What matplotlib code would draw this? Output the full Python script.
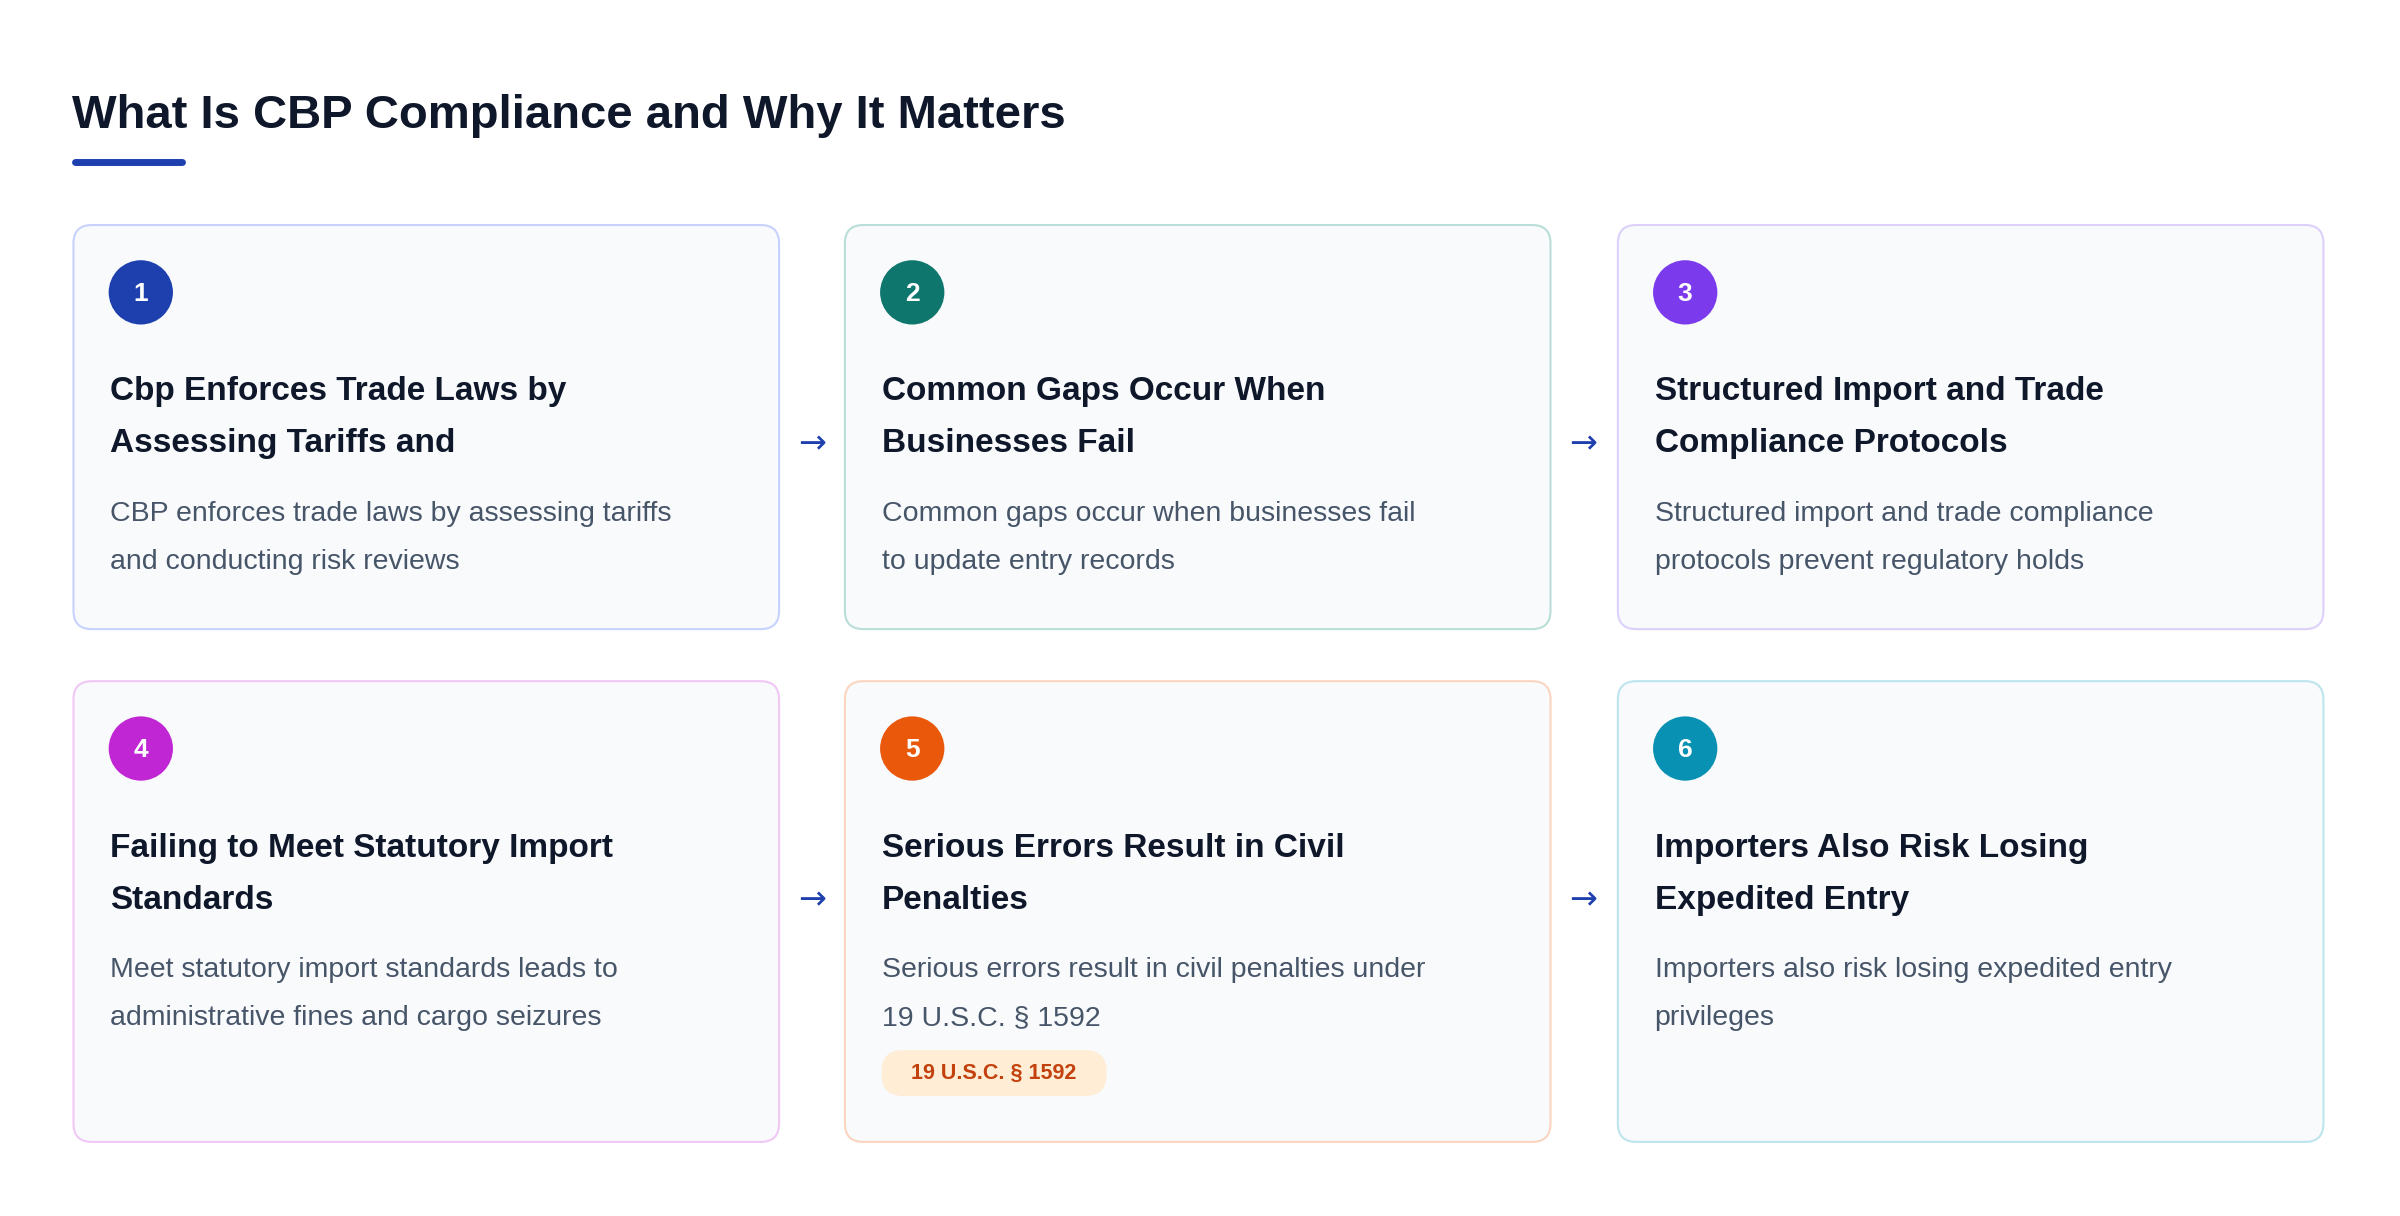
import matplotlib
matplotlib.use("Agg")
import matplotlib.pyplot as plt
from matplotlib.patches import FancyBboxPatch, Circle

title = "What Is CBP Compliance and Why It Matters"
numbers = ["1", "2", "3", "4", "5", "6"]
card_titles = [
    ["Cbp Enforces Trade Laws by", "Assessing Tariffs and"],
    ["Common Gaps Occur When", "Businesses Fail"],
    ["Structured Import and Trade", "Compliance Protocols"],
    ["Failing to Meet Statutory Import", "Standards"],
    ["Serious Errors Result in Civil", "Penalties"],
    ["Importers Also Risk Losing", "Expedited Entry"],
]
card_descs = [
    ["CBP enforces trade laws by assessing tariffs", "and conducting risk reviews"],
    ["Common gaps occur when businesses fail", "to update entry records"],
    ["Structured import and trade compliance", "protocols prevent regulatory holds"],
    ["Meet statutory import standards leads to", "administrative fines and cargo seizures"],
    ["Serious errors result in civil penalties under", "19 U.S.C. § 1592"],
    ["Importers also risk losing expedited entry", "privileges"],
]
badges = [None, None, None, None, "19 U.S.C. § 1592", None]
accent = ["#1E40AF", "#0F766E", "#7C3AED", "#C026D3", "#EA580C", "#0891B2"]
borders = ["#C7D2FE", "#B9DED8", "#DDD0FA", "#F0C8F5", "#FBD5C0", "#BDE5EE"]

plt.rcParams['font.family'] = ['Liberation Sans', 'DejaVu Sans']
fig = plt.figure(figsize=(24, 12.16), dpi=100)
ax = fig.add_axes([0, 0, 1, 1])
W, H = 1568, 794.4
ax.set_xlim(0, W); ax.set_ylim(H, 0); ax.axis('off')

ax.text(47, 76, title, fontsize=34, fontweight='bold', color='#0F172A', va='center', ha='left')
ax.plot([49, 119], [106, 106], color='#1E40AF', lw=5, solid_capstyle='round')

cols = [48, 552, 1057]
rows = [(147, 411), (445, 746)]
cw = 461
for i in range(6):
    r, c = divmod(i, 3)
    x0 = cols[c]; y0, y1 = rows[r]
    box = FancyBboxPatch((x0, y0), cw, y1 - y0, boxstyle="round,pad=0,rounding_size=12",
                         fc='#F8FAFC', ec=borders[i], lw=1.5)
    ax.add_patch(box)
    cx, cy = x0 + 44, y0 + 44
    ax.add_patch(Circle((cx, cy), 21, fc=accent[i], ec='none'))
    ax.text(cx, cy + 1, numbers[i], fontsize=19, fontweight='bold', color='white', ha='center', va='center')
    for k, line in enumerate(card_titles[i]):
        ax.text(x0 + 24, y0 + 109 + 34 * k, line, fontsize=24, fontweight='bold', color='#0F172A', va='center')
    for k, line in enumerate(card_descs[i]):
        ax.text(x0 + 24, y0 + 189 + 31 * k, line, fontsize=20.5, color='#475569', va='center')
    if badges[i]:
        bx, by = x0 + 24, y0 + 241
        ax.add_patch(FancyBboxPatch((bx, by), 147, 30, boxstyle="round,pad=0,rounding_size=14",
                                    fc='#FFEDD5', ec='none'))
        ax.text(bx + 73.5, by + 15, badges[i], fontsize=15.5, fontweight='bold', color='#C2410C',
                ha='center', va='center')
    if c < 2:
        ay = y0 + 143
        ax.text(x0 + cw + 21.5, ay, "→", fontsize=24, color='#1E40AF', ha='center', va='center',
                family=['DejaVu Sans'])

fig.savefig("out.png", dpi=100, facecolor='white')
